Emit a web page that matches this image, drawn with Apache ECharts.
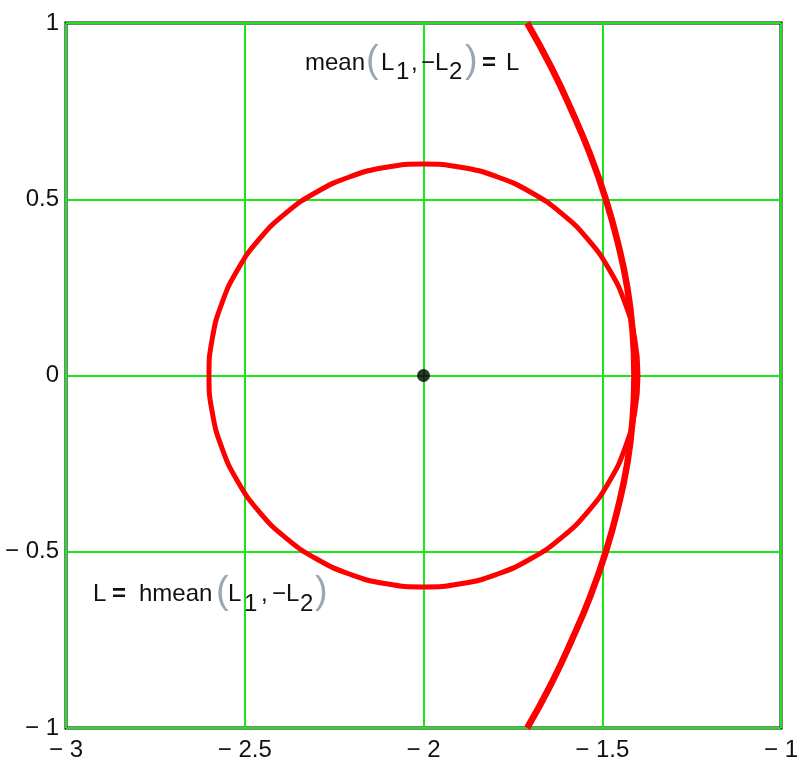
<!DOCTYPE html>
<html>
<head>
<meta charset="utf-8">
<style>
  html, body { margin: 0; padding: 0; background: #fff; }
  #chart { width: 804px; height: 762px; }
</style>
<script src="https://cdn.jsdelivr.net/npm/echarts@6/dist/echarts.min.js"></script>
</head>
<body>
<div id="chart"></div>
<script>
// Axis ticks and their printed labels
const xTicks = [-3, -2.5, -2, -1.5, -1];
const xTickLabels = ['\u2212 3', '\u2212 2.5', '\u2212 2', '\u2212 1.5', '\u2212 1'];
const yTicks = [-1, -0.5, 0, 0.5, 1];
const yTickLabels = ['\u2212 1', '\u2212 0.5', '0', '0.5', '1'];

// Locus where the harmonic mean of the two distances equals L (closed loop)
const hmeanLocus = [
  [-1.400, 0.000], [-1.409, 0.104], [-1.436, 0.205], [-1.480, 0.300],
  [-1.540, 0.386], [-1.614, 0.460], [-1.700, 0.520], [-1.795, 0.564],
  [-1.896, 0.591], [-2.000, 0.600], [-2.104, 0.591], [-2.205, 0.564],
  [-2.300, 0.520], [-2.386, 0.460], [-2.460, 0.386], [-2.520, 0.300],
  [-2.564, 0.205], [-2.591, 0.104], [-2.600, 0.000], [-2.591, -0.104],
  [-2.564, -0.205], [-2.520, -0.300], [-2.460, -0.386], [-2.386, -0.460],
  [-2.300, -0.520], [-2.205, -0.564], [-2.104, -0.591], [-2.000, -0.600],
  [-1.896, -0.591], [-1.795, -0.564], [-1.700, -0.520], [-1.614, -0.460],
  [-1.540, -0.386], [-1.480, -0.300], [-1.436, -0.205], [-1.409, -0.104],
  [-1.400, 0.000]
];

// Locus where the arithmetic mean of the two distances equals L (open branch)
const meanLocus = [
  [-1.710, -1.000], [-1.643, -0.875], [-1.585, -0.750], [-1.533, -0.625],
  [-1.490, -0.500], [-1.456, -0.375], [-1.430, -0.250], [-1.415, -0.125],
  [-1.410, 0.000], [-1.415, 0.125], [-1.430, 0.250], [-1.456, 0.375],
  [-1.490, 0.500], [-1.533, 0.625], [-1.585, 0.750], [-1.643, 0.875],
  [-1.710, 1.000]
];

// Centre point
const centre = [[-2, 0]];

const FONT = '"Liberation Sans", Arial, sans-serif';
const MAIN_FS = 24;
const textColor = '#111';
const parenColor = '#9aa6b4';

function piece(text, x, y, kind) {
  const style = {
    text: text,
    x: x,
    y: y,
    fill: textColor,
    font: MAIN_FS + 'px ' + FONT,
    textAlign: 'left',
    textVerticalAlign: 'middle'
  };
  if (kind === 'paren') {
    style.fill = parenColor;
    style.font = '38px ' + FONT;
  } else if (kind === 'bold') {
    style.font = 'bold ' + MAIN_FS + 'px ' + FONT;
  }
  return { type: 'text', style: style, z: 100 };
}

// Formula labels, each split into glyph runs so subscripts sit below the baseline
const topY = 63, topSubY = 72;
const botY = 594, botSubY = 604;
const annotation = [
  piece('mean', 305, topY),
  piece('(', 366, topY - 1, 'paren'),
  piece('L', 381, topY),
  piece('1', 396, topSubY),
  piece(',', 411, topY),
  piece('\u2212L', 421, topY),
  piece('2', 449, topSubY),
  piece(')', 465, topY - 1, 'paren'),
  piece('=', 482, topY, 'bold'),
  piece('L', 506, topY),

  piece('L', 93, botY),
  piece('=', 112, botY, 'bold'),
  piece('hmean', 139, botY),
  piece('(', 216, botY - 1, 'paren'),
  piece('L', 228, botY),
  piece('1', 244, botSubY),
  piece(',', 261, botY),
  piece('\u2212L', 272, botY),
  piece('2', 300, botSubY),
  piece(')', 315, botY - 1, 'paren')
];

const chart = echarts.init(document.getElementById('chart'), null, { renderer: 'canvas' });

const gridGreen = '#19e619';

chart.setOption({
  animation: false,
  backgroundColor: '#fff',
  grid: {
    left: 66, right: 23, top: 23, bottom: 34,
    show: true,
    borderColor: '#000',
    borderWidth: 3,
    backgroundColor: 'transparent'
  },
  xAxis: {
    type: 'value',
    min: -3, max: -1, interval: 0.5,
    axisLine: { show: false },
    axisTick: { show: false },
    splitLine: { show: true, lineStyle: { color: gridGreen, width: 2 } },
    axisLabel: {
      margin: 10,
      fontFamily: FONT,
      fontSize: 24,
      color: textColor,
      showMinLabel: true,
      showMaxLabel: true,
      formatter: v => xTickLabels[xTicks.findIndex(t => Math.abs(t - v) < 1e-9)]
    }
  },
  yAxis: {
    type: 'value',
    min: -1, max: 1, interval: 0.5,
    axisLine: { show: false },
    axisTick: { show: false },
    splitLine: { show: true, lineStyle: { color: gridGreen, width: 2 } },
    axisLabel: {
      margin: 7,
      fontFamily: FONT,
      fontSize: 24,
      color: textColor,
      showMinLabel: true,
      showMaxLabel: true,
      formatter: v => yTickLabels[yTicks.findIndex(t => Math.abs(t - v) < 1e-9)]
    }
  },
  series: [
    {
      type: 'line',
      data: hmeanLocus,
      showSymbol: false,
      smooth: 0.5,
      lineStyle: { color: '#ff0000', width: 5 },
      z: 3
    },
    {
      type: 'line',
      data: meanLocus,
      showSymbol: false,
      smooth: true,
      lineStyle: { color: '#ff0000', width: 6.5 },
      z: 3
    },
    {
      type: 'scatter',
      data: centre,
      symbol: 'circle',
      symbolSize: 13,
      itemStyle: { color: '#000' },
      z: 4
    }
  ],
  graphic: annotation
});
</script>
</body>
</html>
